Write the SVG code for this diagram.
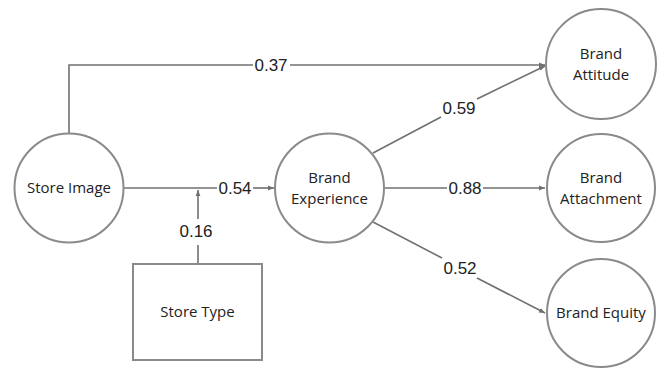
<svg xmlns="http://www.w3.org/2000/svg" width="661" height="369" viewBox="0 0 661 369">
<style>
.node{fill:#fff;stroke:#8a8a8a;stroke-width:2}
.lbl{font-family:"Open Sans","Noto Sans",sans-serif;font-size:15px;fill:#222;text-anchor:middle}
.edge{fill:none;stroke:#707070;stroke-width:1.6}
.num{font-family:"Liberation Sans",Arial,sans-serif;font-size:17px;fill:#222;text-anchor:middle}
</style>
<defs>
<marker id="arr" viewBox="0 0 10 10" refX="10" refY="5" markerWidth="6" markerHeight="6" orient="auto" markerUnits="userSpaceOnUse">
<path d="M0,1 L10,5 L0,9 z" fill="#707070"/>
</marker>
</defs>
<g id="connectors">
<path class="edge" d="M69,134 V65 H253"/>
<path class="edge" d="M290,65 H545" marker-end="url(#arr)"/>
<path class="edge" d="M123,188 H217"/>
<path class="edge" d="M253,188 H274" marker-end="url(#arr)"/>
<path class="edge" d="M198,264 V245"/>
<path class="edge" d="M198,219 V190" marker-end="url(#arr)"/>
<path class="edge" d="M373,153 L441,117"/>
<path class="edge" d="M477,99 L545,66" marker-end="url(#arr)"/>
<path class="edge" d="M384,188 H447"/>
<path class="edge" d="M483,188 H545" marker-end="url(#arr)"/>
<path class="edge" d="M373,222 L442,258"/>
<path class="edge" d="M477,278 L545,313" marker-end="url(#arr)"/>
<text class="num" x="271" y="71">0.37</text>
<text class="num" x="235" y="194">0.54</text>
<text class="num" x="196" y="237">0.16</text>
<text class="num" x="459" y="114">0.59</text>
<text class="num" x="465" y="194">0.88</text>
<text class="num" x="460" y="274">0.52</text>
</g>
<g id="store-image">
<circle class="node" cx="69" cy="188" r="54.5"/>
<text class="lbl" x="69" y="193">Store Image</text>
</g>
<g id="brand-experience">
<circle class="node" cx="329.5" cy="188" r="54.5"/>
<text class="lbl" x="329.5" y="183">Brand</text>
<text class="lbl" x="329.5" y="204">Experience</text>
</g>
<g id="brand-attitude">
<circle class="node" cx="601" cy="64" r="55"/>
<text class="lbl" x="601" y="59">Brand</text>
<text class="lbl" x="601" y="80">Attitude</text>
</g>
<g id="brand-attachment">
<circle class="node" cx="601" cy="188" r="54"/>
<text class="lbl" x="601" y="183">Brand</text>
<text class="lbl" x="601" y="204">Attachment</text>
</g>
<g id="brand-equity">
<circle class="node" cx="601" cy="313" r="54"/>
<text class="lbl" x="601" y="318">Brand Equity</text>
</g>
<g id="store-type">
<rect class="node" x="133" y="264" width="129" height="96"/>
<text class="lbl" x="197.5" y="317">Store Type</text>
</g>
</svg>
